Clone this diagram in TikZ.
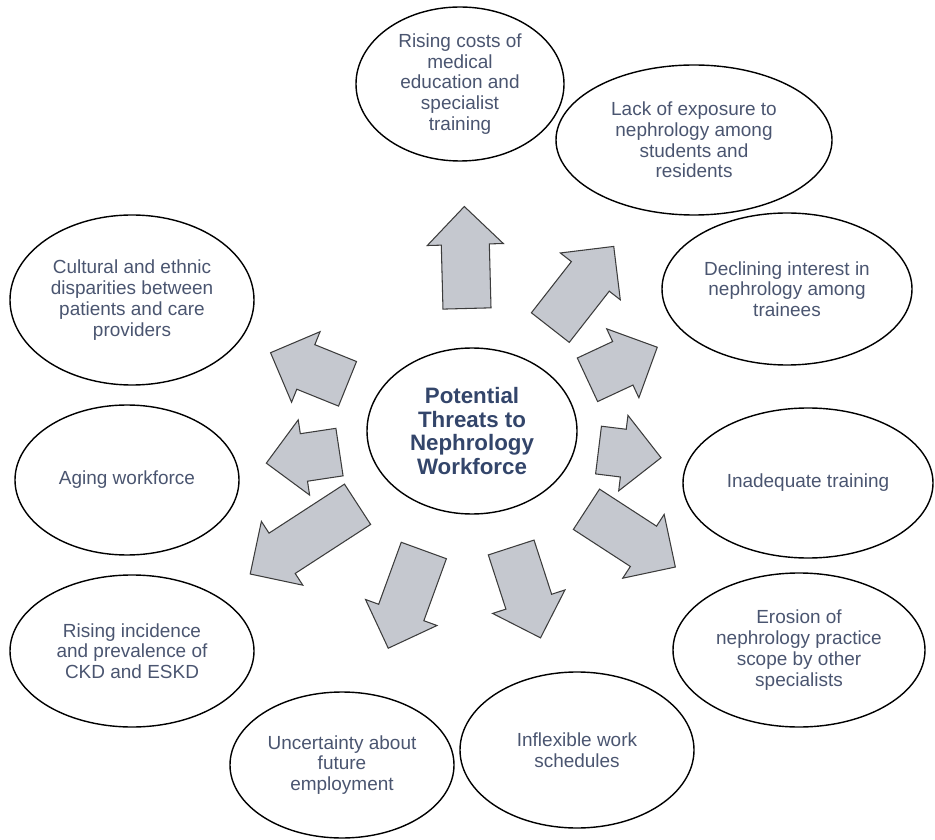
\documentclass[tikz,border=0pt]{standalone}
\usepackage{fontspec}
\setmainfont{Liberation Sans}
\usetikzlibrary{shapes.geometric,shapes.arrows}

\definecolor{txtslate}{HTML}{4A5570}
\definecolor{hubnavy}{HTML}{33456A}
\definecolor{arrowgray}{HTML}{C5C8CF}
\definecolor{arrowedge}{HTML}{3C3C3C}

\begin{document}
\begin{tikzpicture}[x=0.2mm, y=-0.2mm,
    threat/.style={draw, ellipse, line width=0.8pt, inner sep=0pt, align=center,
      text=txtslate, font=\fontsize{10.8}{11.8}\selectfont},
    hub/.style={threat, text=hubnavy, font=\bfseries\fontsize{12.7}{13.6}\selectfont},
    push/.style={draw=arrowedge, fill=arrowgray, line width=0.6pt, single arrow,
      inner xsep=0pt, inner ysep=4.7mm, minimum width=15mm,
      single arrow head extend=2.8mm, anchor=tail},
  ]
  \useasboundingbox (0,0) rectangle (935,840);

  \node[hub, minimum width=42mm, minimum height=33.2mm] (hub) at (472,431)
    {Potential\\ Threats to\\ Nephrology\\ Workforce};

  \node[threat, minimum width=41.6mm, minimum height=30.8mm] (rising) at (460,84)
    {Rising costs of\\ medical\\ education and\\ specialist\\ training};
  \node[threat, minimum width=55.2mm, minimum height=30mm] (exposure) at (694,140)
    {Lack of exposure to\\ nephrology among\\ students and\\ residents};
  \node[threat, minimum width=50mm, minimum height=30.4mm] (declining) at (787,289)
    {Declining interest in\\ nephrology among\\ trainees};
  \node[threat, minimum width=50mm, minimum height=30mm] (inadequate) at (808,483)
    {Inadequate training};
  \node[threat, minimum width=50.4mm, minimum height=30.8mm] (erosion) at (799,650)
    {Erosion of\\ nephrology practice\\ scope by other\\ specialists};
  \node[threat, minimum width=46.8mm, minimum height=31.2mm] (inflexible) at (577,750)
    {Inflexible work\\ schedules};
  \node[threat, minimum width=44.8mm, minimum height=29.2mm] (uncertain) at (342,765)
    {Uncertainty about\\ future\\ employment};
  \node[threat, minimum width=48.8mm, minimum height=30.4mm] (incidence) at (132,651)
    {Rising incidence\\ and prevalence of\\ CKD and ESKD};
  \node[threat, minimum width=44.8mm, minimum height=30mm] (aging) at (127,480)
    {Aging workforce};
  \node[threat, minimum width=48.8mm, minimum height=34mm] (cultural) at (132,300)
    {Cultural and ethnic\\ disparities between\\ patients and care\\ providers};

  % block arrows pointing out of the hub
  \node[push, minimum height=20.4mm, rotate=91.5] (to-rising) at (467,309) {};
  \node[push, minimum height=20.6mm, rotate=52] (to-exposure) at (550,328) {};
  \node[push, minimum height=15.4mm, rotate=25] (to-declining) at (587,380) {};
  \node[push, minimum height=12.6mm, rotate=-7] (to-inadequate) at (598,450) {};
  \node[push, minimum height=21.2mm, rotate=-33] (to-erosion) at (586,509) {};
  \node[push, minimum height=19mm, rotate=-72] (to-inflexible) at (511,547) {};
  \node[push, minimum height=20.8mm, rotate=-110] (to-uncertain) at (424,550) {};
  \node[push, minimum height=25.6mm, rotate=213] (to-incidence) at (358,504) {};
  \node[push, minimum height=14.8mm, rotate=188.6] (to-aging) at (340,452) {};
  \node[push, minimum height=16.6mm, rotate=158] (to-cultural) at (348,384) {};
\end{tikzpicture}
\end{document}
